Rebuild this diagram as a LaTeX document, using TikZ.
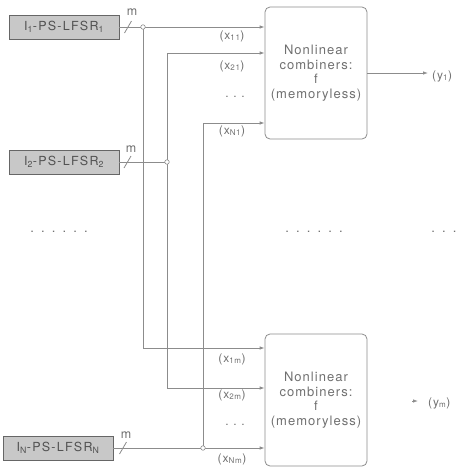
\documentclass[tikz,border=0pt]{standalone}
\usepackage{fontspec}
\setmainfont{TeX Gyre Heros}[LetterSpace=8]
\usetikzlibrary{arrows.meta}
\definecolor{ln}{HTML}{8C8C8C}
\definecolor{tx}{HTML}{707070}
\definecolor{bx}{HTML}{C8C8C8}
\definecolor{bd}{HTML}{666666}
\begin{document}
\begin{tikzpicture}[x=1pt,y=-1pt,
  every node/.style={text=tx, font=\fontsize{13}{14.5}\selectfont},
  wire/.style={draw=ln, line width=0.8pt},
  arr/.style={wire, -{Latex[length=5pt,width=3.5pt]}},
  lfsr/.style={draw=bd, fill=bx, line width=0.8pt, minimum width=110pt, minimum height=24pt, inner sep=0pt, text=black!68, font=\fontsize{12.5}{14}\selectfont\addfontfeature{LetterSpace=10}},
  comb/.style={draw=ln, line width=0.8pt, rounded corners=5pt, minimum width=102pt, minimum height=132pt, align=center, inner sep=0pt},
  jn/.style={circle, draw=ln, fill=white, line width=0.6pt, minimum size=4.5pt, inner sep=0pt},
  lab/.style={font=\fontsize{12}{13}\selectfont, inner sep=0pt},
  msm/.style={font=\fontsize{12.5}{13}\selectfont, inner sep=0pt},
  dots/.style={font=\fontsize{13}{14}\selectfont\addfontfeature{LetterSpace=55}, inner sep=0pt},
  ldots/.style={font=\fontsize{12}{13}\selectfont\addfontfeature{LetterSpace=39}, inner sep=0pt},
  ]
\useasboundingbox (0,0) rectangle (460,467);

% sources
\node[lfsr] (L1) at (64,27) {I\textsubscript{1}-PS-LFSR\textsubscript{1}};
\node[lfsr] (L2) at (64,162) {I\textsubscript{2}-PS-LFSR\textsubscript{2}};
\node[lfsr] (LN) at (58,448) {I\textsubscript{N}-PS-LFSR\textsubscript{N}};

% combiners
\node[comb] (C1) at (316,73) {Nonlinear\\combiners:\\f\\(memoryless)};
\node[comb] (C2) at (316,400) {Nonlinear\\combiners:\\f\\(memoryless)};

% junction points and corners
\coordinate (J1) at (143,27);
\coordinate (J2) at (167,162);
\coordinate (JN) at (203,448);
\coordinate (A1) at (143,348);
\coordinate (B1) at (167,53);
\coordinate (B2) at (167,388);
\coordinate (D1) at (203,123);

% wires from LFSR 1
\draw[wire] (L1.east) -- (J1);
\draw[arr] (J1) -- (J1 -| C1.west);
\draw[wire] (J1) -- (A1);
\draw[arr] (A1) -- (A1 -| C2.west);
% wires from LFSR 2
\draw[wire] (L2.east) -- (J2);
\draw[wire] (B1) -- (B2);
\draw[arr] (B1) -- (B1 -| C1.west);
\draw[arr] (B2) -- (B2 -| C2.west);
% wires from LFSR N
\draw[wire] (LN.east) -- (JN);
\draw[arr] (JN) -- (JN -| C2.west);
\draw[wire] (JN) -- (D1);
\draw[arr] (D1) -- (D1 -| C1.west);

% junction circles
\node[jn] (J1c) at (J1) {};
\node[jn] (J2c) at (J2) {};
\node[jn] (JNc) at (JN) {};

% bus slashes and widths
\coordinate (S1) at (128,27);
\coordinate (S2) at (127.5,162);
\coordinate (SN) at (123,448);
\draw[wire] ([shift={(-3.5,6)}]S1) -- ([shift={(3.5,-6)}]S1);
\draw[wire] ([shift={(-3.5,6)}]S2) -- ([shift={(3.5,-6)}]S2);
\draw[wire] ([shift={(-3.5,6)}]SN) -- ([shift={(3.5,-6)}]SN);
\node[msm] (m1) at (132,12) {m};
\node[msm] (m2) at (131,149) {m};
\node[msm] (mN) at (126,435) {m};

% input labels
\node[lab] (x11) at (232,36) {(x\textsubscript{11})};
\node[lab] (x21) at (232,66) {(x\textsubscript{21})};
\node[ldots] (xd1) at (235,97) {...};
\node[lab] (xN1) at (232,131) {(x\textsubscript{N1})};
\node[lab] (x1m) at (232,359) {(x\textsubscript{1m})};
\node[lab] (x2m) at (232,395) {(x\textsubscript{2m})};
\node[ldots] (xd2) at (235,425) {...};
\node[lab] (xNm) at (232,459) {(x\textsubscript{Nm})};

% outputs
\node[lab, anchor=west] (Y1) at (432,76) {(y\textsubscript{1})};
\draw[arr] (C1.east) -- ([xshift=-4pt]C1.east -| Y1.west);
\node[lab, anchor=west] (Ym) at (428,403) {(y\textsubscript{m})};
\coordinate (T2) at (412,401);
\coordinate (T2e) at (418,401);
\draw[arr] (T2) -- (T2e);

% ellipses
\node[dots] (d1) at (59,232) {......};
\node[dots] (d2) at (314,232) {......};
\node[dots] (d3) at (444,232) {...};
\end{tikzpicture}
\end{document}
